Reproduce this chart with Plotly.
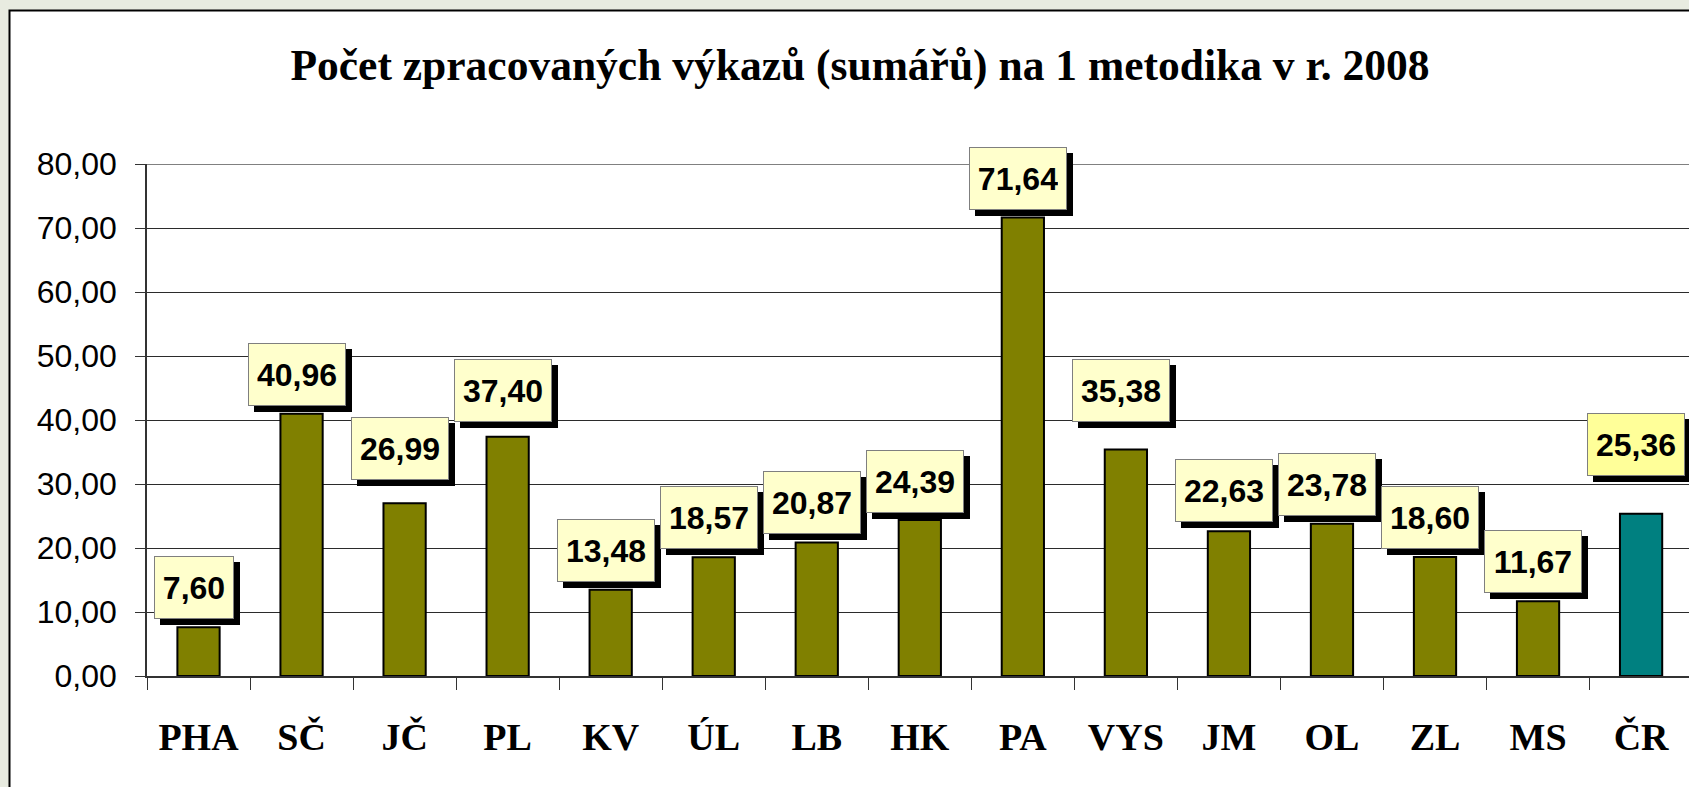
import plotly.graph_objects as go

categories = ["PHA", "SČ", "JČ", "PL", "KV", "ÚL", "LB", "HK", "PA", "VYS", "JM", "OL", "ZL", "MS", "ČR"]
values = [7.60, 40.96, 26.99, 37.40, 13.48, 18.57, 20.87, 24.39, 71.64, 35.38, 22.63, 23.78, 18.60, 11.67, 25.36]
title_text = "Počet zpracovaných výkazů (sumářů) na 1 metodika v r. 2008"
y_ticks = [0, 10, 20, 30, 40, 50, 60, 70, 80]

# styling
bar_colors = ["#808000"] * 14 + ["#008080"]
label_fills = ["#ffffcc"] * 14 + ["#ffff99"]
label_gaps = [8, 8, 23, 15, 8, 8, 8, 7, 8, 28, 9, 8, 8, 8, 38]  # px above bar top

W, H = 1689, 787
L, T, B = 147, 164, 111
pw, ph = W - L, H - T - B
LAB_SIZE = 32

fig = go.Figure()
fig.add_trace(go.Bar(
    x=categories, y=values, width=0.41,
    marker=dict(color=bar_colors, line=dict(color="#000000", width=2)),
    hoverinfo="x+y",
))


def text_width(s):
    # Arial bold advance widths
    return sum((0.278 if ch == "," else 0.556) for ch in s) * LAB_SIZE


lab_font = dict(family="Liberation Sans, Arial, sans-serif", size=LAB_SIZE, color="#000000", weight="bold")
for c, v, fill, gap in zip(categories, values, label_fills, label_gaps):
    txt = f"{v:.2f}".replace(".", ",")
    w = round(text_width(txt))
    common = dict(x=c, y=v, xref="x", yref="y", showarrow=False,
                  yanchor="bottom", xanchor="center", borderpad=8, borderwidth=1,
                  height=45, width=w)
    fig.add_annotation(**common, text="\u00a0", font=lab_font, bgcolor="#000000",
                       bordercolor="#000000", xshift=-5 + 6, yshift=gap - 6)
    fig.add_annotation(**common, text=txt, font=lab_font, bgcolor=fill, bordercolor="#7f7f7f",
                       xshift=-5, yshift=gap)

# white chart frame
fig.add_shape(type="rect", xref="paper", yref="paper",
              x0=(9.5 - L) / pw, x1=1.05, y0=-0.4, y1=(H - B - 10.5) / ph,
              fillcolor="#ffffff", line=dict(color="#000000", width=2), layer="below")
# plot area top border
fig.add_shape(type="line", xref="paper", yref="y", x0=0, x1=1, y0=y_ticks[-1], y1=y_ticks[-1],
              line=dict(color="#808080", width=2))

fig.update_layout(
    width=W, height=H,
    margin=dict(l=L, r=0, t=T, b=B, pad=0),
    paper_bgcolor="#e8ebe0",
    plot_bgcolor="#ccffcc",
    separators=", ",
    showlegend=False,
    title=dict(text=title_text, x=860 / W, xanchor="center", xref="container",
               y=1 - 65 / H, yanchor="middle", yref="container",
               font=dict(family="Liberation Serif, Times New Roman, serif", size=43.5,
                         color="#000000", weight="bold")),
)

fig.update_xaxes(
    type="category", range=[-0.5, 14.465],
    showline=True, linecolor="#333333", linewidth=2,
    ticks="outside", tickson="boundaries", ticklen=12, tickcolor="#333333", tickwidth=1,
    tickfont=dict(family="Liberation Serif, Times New Roman, serif", size=38, color="#000000", weight="bold"),
    ticklabelstandoff=26,
    showgrid=False, zeroline=False, fixedrange=True,
)
fig.update_yaxes(
    range=[0, 80], tickvals=y_ticks, tickformat=".2f",
    showline=True, linecolor="#333333", linewidth=1.5,
    ticks="outside", ticklen=10, tickcolor="#333333", tickwidth=1,
    tickfont=dict(family="Liberation Sans, Arial, sans-serif", size=32, color="#000000"),
    ticklabelstandoff=12,
    showgrid=True, gridcolor="#2b2b2b", gridwidth=1, zeroline=False, fixedrange=True,
)

fig.write_html("out.html", config={"displayModeBar": False},
               post_script="document.body.style.margin='0';document.body.style.overflow='hidden';")
